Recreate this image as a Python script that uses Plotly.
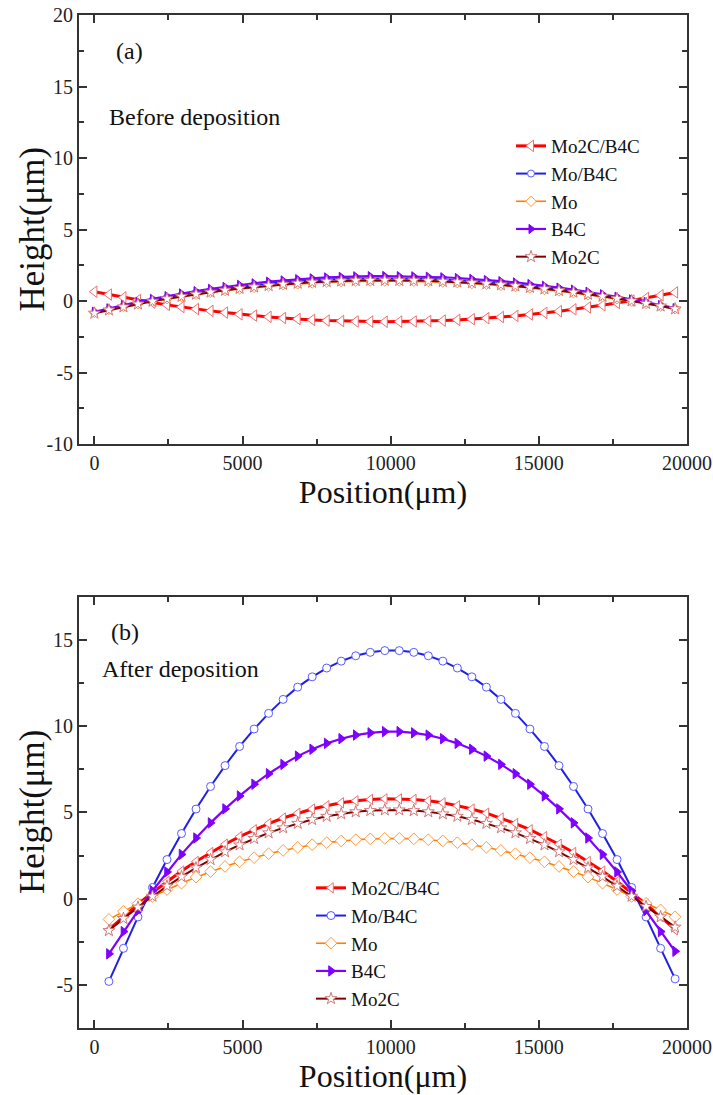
import plotly.graph_objects as go

# positions (um)
x_top = [0, 490, 980, 1470, 1960, 2450, 2940, 3430, 3920, 4410, 4900, 5390, 5880, 6370,
         6860, 7350, 7840, 8330, 8820, 9310, 9800, 10290, 10780, 11270, 11760, 12250,
         12740, 13230, 13720, 14210, 14700, 15190, 15680, 16170, 16660, 17150, 17640,
         18130, 18620, 19110, 19600]
x_bot = [490, 980, 1470, 1960, 2450, 2940, 3430, 3920, 4410, 4900, 5390, 5880, 6370,
         6860, 7350, 7840, 8330, 8820, 9310, 9800, 10290, 10780, 11270, 11760, 12250,
         12740, 13230, 13720, 14210, 14700, 15190, 15680, 16170, 16660, 17150, 17640,
         18130, 18620, 19110, 19600]

names = ['Mo2C/B4C', 'Mo/B4C', 'Mo', 'B4C', 'Mo2C']

x_ticks = [0, 5000, 10000, 15000, 20000]
x_labels = ['0', '5000', '10000', '15000', '20000']
y_ticks_top = [-10, -5, 0, 5, 10, 15, 20]
y_labels_top = ['-10', '-5', '0', '5', '10', '15', '20']
y_ticks_bot = [-5, 0, 5, 10, 15]
y_labels_bot = ['-5', '0', '5', '10', '15']

# (a) before deposition
before_mo2c_b4c = [0.65, 0.45, 0.25, 0.07, -0.11, -0.27, -0.42, -0.56, -0.69, -0.81, -0.93,
                   -1.02, -1.11, -1.19, -1.26, -1.32, -1.37, -1.40, -1.43, -1.44, -1.45,
                   -1.44, -1.43, -1.40, -1.37, -1.32, -1.27, -1.20, -1.12, -1.04, -0.94,
                   -0.83, -0.71, -0.58, -0.45, -0.30, -0.14, 0.03, 0.21, 0.40, 0.60]
before_mo_b4c = [-0.80, -0.57, -0.34, -0.13, 0.06, 0.25, 0.42, 0.59, 0.74, 0.87, 1.00,
                 1.11, 1.22, 1.31, 1.38, 1.45, 1.50, 1.55, 1.58, 1.59, 1.60,
                 1.59, 1.58, 1.55, 1.51, 1.47, 1.41, 1.34, 1.26, 1.16, 1.06,
                 0.95, 0.83, 0.69, 0.55, 0.39, 0.22, 0.05, -0.14, -0.34, -0.55]
before_mo = [-0.80, -0.59, -0.38, -0.19, -0.01, 0.16, 0.32, 0.47, 0.61, 0.73, 0.85,
             0.95, 1.05, 1.13, 1.20, 1.26, 1.31, 1.35, 1.38, 1.39, 1.40,
             1.40, 1.38, 1.36, 1.32, 1.28, 1.22, 1.16, 1.09, 1.01, 0.91,
             0.81, 0.70, 0.58, 0.44, 0.30, 0.15, -0.01, -0.18, -0.36, -0.55]
before_b4c = [-0.75, -0.51, -0.28, -0.06, 0.15, 0.34, 0.53, 0.69, 0.85, 0.99, 1.13,
              1.24, 1.35, 1.44, 1.53, 1.59, 1.65, 1.69, 1.73, 1.74, 1.75,
              1.74, 1.73, 1.70, 1.66, 1.61, 1.55, 1.47, 1.39, 1.30, 1.19,
              1.07, 0.94, 0.80, 0.65, 0.48, 0.30, 0.12, -0.07, -0.28, -0.50]
before_mo2c = [-0.85, -0.63, -0.41, -0.21, -0.02, 0.16, 0.32, 0.48, 0.62, 0.75, 0.88,
               0.98, 1.08, 1.17, 1.24, 1.31, 1.36, 1.40, 1.43, 1.44, 1.45,
               1.44, 1.43, 1.41, 1.37, 1.33, 1.27, 1.21, 1.13, 1.05, 0.95,
               0.85, 0.73, 0.61, 0.47, 0.33, 0.17, 0.01, -0.17, -0.35, -0.55]

# (b) after deposition
after_mo2c_b4c = [-1.80, -1.04, -0.32, 0.36, 1.00, 1.60, 2.16, 2.68, 3.16, 3.60,
                  4.00, 4.36, 4.68, 4.96, 5.20, 5.39, 5.56, 5.68, 5.76, 5.79,
                  5.79, 5.76, 5.68, 5.56, 5.39, 5.20, 4.96, 4.68, 4.36, 4.00,
                  3.60, 3.16, 2.68, 2.16, 1.60, 1.00, 0.36, -0.32, -1.04, -1.80]
after_mo_b4c = [-4.80, -2.88, -1.06, 0.65, 2.27, 3.78, 5.20, 6.51, 7.72, 8.83,
                9.84, 10.75, 11.56, 12.27, 12.87, 13.38, 13.78, 14.09, 14.29, 14.39,
                14.39, 14.29, 14.09, 13.78, 13.38, 12.87, 12.27, 11.56, 10.75, 9.84,
                8.83, 7.72, 6.51, 5.20, 3.78, 2.27, 0.65, -1.06, -2.88, -4.65]
after_mo = [-1.20, -0.73, -0.29, 0.13, 0.53, 0.90, 1.25, 1.57, 1.87, 2.14,
            2.38, 2.61, 2.80, 2.98, 3.13, 3.25, 3.35, 3.42, 3.47, 3.50,
            3.50, 3.47, 3.42, 3.35, 3.25, 3.13, 2.98, 2.80, 2.61, 2.38,
            2.14, 1.87, 1.57, 1.25, 0.90, 0.53, 0.13, -0.27, -0.65, -1.05]
after_b4c = [-3.20, -1.91, -0.69, 0.46, 1.55, 2.57, 3.52, 4.40, 5.21, 5.96,
             6.64, 7.25, 7.79, 8.27, 8.67, 9.01, 9.28, 9.49, 9.62, 9.69,
             9.69, 9.62, 9.49, 9.28, 9.01, 8.67, 8.27, 7.79, 7.25, 6.64,
             5.96, 5.21, 4.40, 3.52, 2.57, 1.55, 0.46, -0.69, -1.91, -3.05]
after_mo2c = [-1.85, -1.15, -0.49, 0.14, 0.73, 1.28, 1.79, 2.27, 2.72, 3.12,
              3.49, 3.82, 4.11, 4.37, 4.59, 4.78, 4.92, 5.04, 5.11, 5.15,
              5.15, 5.11, 5.04, 4.92, 4.78, 4.59, 4.37, 4.11, 3.82, 3.49,
              3.12, 2.72, 2.27, 1.79, 1.28, 0.73, 0.14, -0.45, -1.05, -1.65]

# line colour, marker edge, marker fill, symbol, line width, marker size (top, bottom)
styles = [
    ('#ff0000', '#f07070', 'white', 'triangle-left', 3, 10, 9),
    ('#1f1fe6', '#5a5aff', 'white', 'circle', 2, 7, 8),
    ('#ff8000', '#ff9a40', 'white', 'diamond', 1.6, 8, 9),
    ('#8000ff', '#8000ff', '#8000ff', 'triangle-right', 2.2, 8, 9),
    ('#800000', '#d07878', 'white', 'star', 2, 9, 9),
]

FONT = 'Liberation Serif'
AX = '#333333'

fig = go.Figure()

top_series = [before_mo2c_b4c, before_mo_b4c, before_mo, before_b4c, before_mo2c]
bot_series = [after_mo2c_b4c, after_mo_b4c, after_mo, after_b4c, after_mo2c]

for name, ys, st in zip(names, top_series, styles):
    lc, ec, fc, sym, lw, ms, _ = st
    fig.add_trace(go.Scatter(x=x_top, y=ys, name=name, mode='lines+markers',
                             line=dict(color=lc, width=lw),
                             marker=dict(symbol=sym, size=ms, color=fc,
                                         line=dict(color=ec, width=1)),
                             xaxis='x', yaxis='y', legend='legend'))

for name, ys, st in zip(names, bot_series, styles):
    lc, ec, fc, sym, lw, _, ms = st
    fig.add_trace(go.Scatter(x=x_bot, y=ys, name=name, mode='lines+markers',
                             line=dict(color=lc, width=lw),
                             marker=dict(symbol=sym, size=ms, color=fc,
                                         line=dict(color=ec, width=1)),
                             xaxis='x2', yaxis='y2', legend='legend2'))


def xaxis(anchor, domain):
    return dict(domain=domain, anchor=anchor, range=[-520, 20000],
                tickvals=x_ticks, ticktext=x_labels, automargin=False,
                ticks='inside', ticklen=8, tickwidth=1.5, tickcolor=AX,
                minor=dict(ticks='inside', ticklen=5, tickwidth=1.5, tickcolor=AX, dtick=2500),
                showline=True, linecolor=AX, linewidth=1.8, mirror='ticks',
                showgrid=False, zeroline=False,
                tickfont=dict(family=FONT, size=20, color='#222'),
                title=dict(text='Position(\u03bcm)', standoff=4,
                           font=dict(family=FONT, size=32, color='#111')))


def yaxis(anchor, domain, rng, ticks, labels):
    return dict(domain=domain, anchor=anchor, range=rng, tickvals=ticks, ticktext=labels,
                automargin=False,
                ticks='inside', ticklen=8, tickwidth=1.5, tickcolor=AX,
                minor=dict(ticks='inside', ticklen=5, tickwidth=1.5, tickcolor=AX, dtick=2.5),
                showline=True, linecolor=AX, linewidth=1.8, mirror='ticks',
                showgrid=False, zeroline=False,
                tickfont=dict(family=FONT, size=20, color='#222'))


leg_font = dict(family=FONT, size=19, color='#111')
txt_font = dict(family=FONT, size=24, color='#111')
ytitle_font = dict(family=FONT, size=35, color='#111')

fig.update_layout(
    width=713, height=1095,
    margin=dict(l=0, r=0, t=0, b=0),
    paper_bgcolor='white', plot_bgcolor='white',
    font=dict(family=FONT),
    xaxis=xaxis('y', [0.1108, 0.9635]),
    yaxis=yaxis('x', [0.5945, 0.9863], [-10, 20], y_ticks_top, y_labels_top),
    xaxis2=xaxis('y2', [0.1108, 0.9635]),
    yaxis2=yaxis('x2', [0.0612, 0.4548], [-7.5, 17.5], y_ticks_bot, y_labels_bot),
    legend=dict(x=0.7167, y=0.884, xanchor='left', yanchor='top', font=leg_font,
                bgcolor='rgba(0,0,0,0)', tracegroupgap=0),
    legend2=dict(x=0.4362, y=0.2064, xanchor='left', yanchor='top', font=leg_font,
                 bgcolor='rgba(0,0,0,0)', tracegroupgap=0),
    annotations=[
        dict(text='Height(\u03bcm)', x=0.0449, y=0.7904, xref='paper', yref='paper',
             xanchor='center', yanchor='middle',
             textangle=-90, showarrow=False, font=ytitle_font),
        dict(text='Height(\u03bcm)', x=0.0449, y=0.2584, xref='paper', yref='paper',
             xanchor='center', yanchor='middle',
             textangle=-90, showarrow=False, font=ytitle_font),
        dict(text='(a)', x=1200, y=17.5, xref='x', yref='y', showarrow=False, font=txt_font),
        dict(text='Before deposition', x=425, y=12.9, xref='x', yref='y', showarrow=False,
             xanchor='left', font=txt_font),
        dict(text='(b)', x=1030, y=15.45, xref='x2', yref='y2', showarrow=False, font=txt_font),
        dict(text='After deposition', x=190, y=13.3, xref='x2', yref='y2', showarrow=False,
             xanchor='left', font=txt_font),
    ],
)

# drop the page's default body margin so the figure sits at the window's corner
fig.write_html("out.html", config={'displayModeBar': False},
               post_script="document.body.style.margin='0';document.body.style.overflow='hidden';")
